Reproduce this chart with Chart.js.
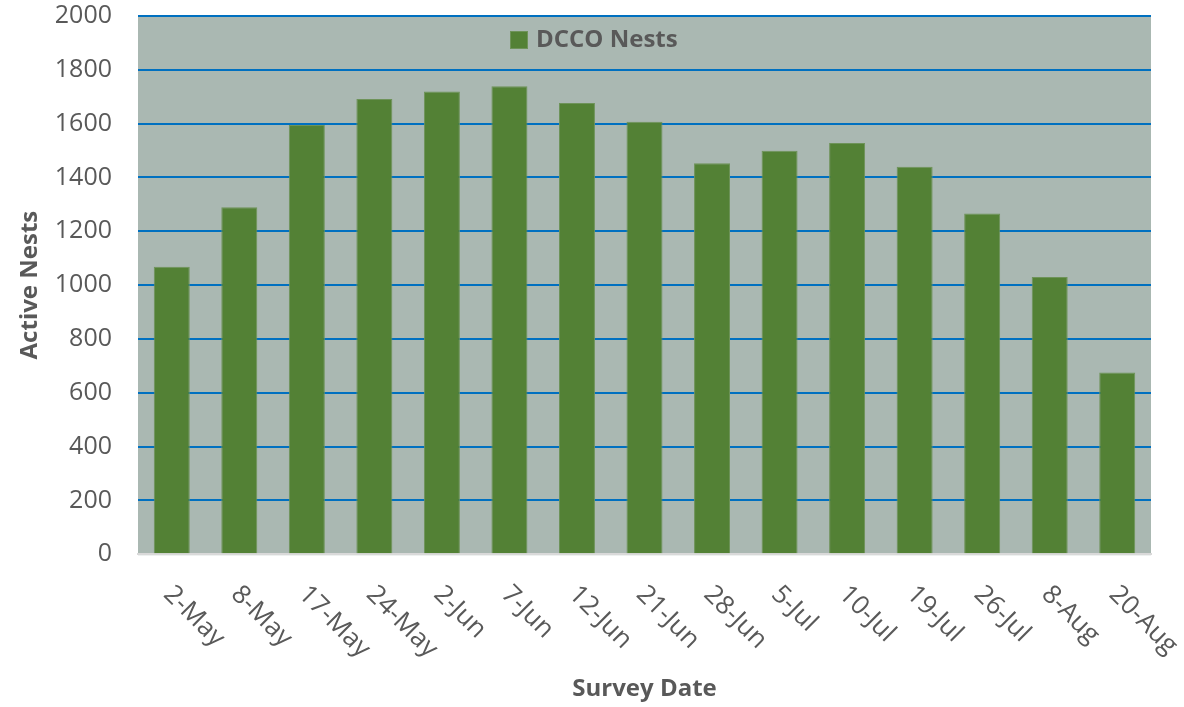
<!DOCTYPE html>
<html>
<head>
<meta charset="utf-8">
<script src="https://cdn.jsdelivr.net/npm/chart.js@4.4.1/dist/chart.umd.min.js"></script>
<style>
  html, body { margin: 0; padding: 0; background: #fff; }
  #wrap { width: 1184px; height: 707px; }
</style>
</head>
<body>
<div id="wrap"><canvas id="nestChart"></canvas></div>
<script>
// Survey dates and active nest counts
const surveyDates = ['2-May', '8-May', '17-May', '24-May', '2-Jun', '7-Jun', '12-Jun', '21-Jun',
    '28-Jun', '5-Jul', '10-Jul', '19-Jul', '26-Jul', '8-Aug', '20-Aug'];
const dccoNests = [1068, 1289, 1595, 1692, 1719, 1739, 1677, 1607, 1453, 1499, 1528, 1440, 1266, 1030, 675];
const yTicks = [0, 200, 400, 600, 800, 1000, 1200, 1400, 1600, 1800, 2000];

const barGreen = '#538135';
const labelGrey = '#595959';
const baseFont = 'Open Sans';

// Grey-green fill behind the plot
const plotBackground = {
    id: 'plotBackground',
    beforeDraw(chart) {
        const { ctx, chartArea } = chart;
        ctx.save();
        ctx.fillStyle = '#AAB8B2';
        ctx.fillRect(chartArea.left, chartArea.top, chartArea.right - chartArea.left, chartArea.bottom - chartArea.top + 1);
        ctx.restore();
    }
};

// Category labels slanting down to the right, starting under each bar
const slantedLabels = {
    id: 'slantedLabels',
    afterDraw(chart) {
        const { ctx, chartArea } = chart;
        const xScale = chart.scales.x;
        ctx.save();
        ctx.font = '26px "' + baseFont + '"';
        ctx.fillStyle = labelGrey;
        ctx.textAlign = 'left';
        ctx.textBaseline = 'middle';
        surveyDates.forEach((label, i) => {
            const px = xScale.getPixelForTick(i);
            ctx.save();
            ctx.translate(px - 4, chartArea.bottom + 36);
            ctx.rotate(Math.PI / 4);
            ctx.fillText(label, 0, 0);
            ctx.restore();
        });
        ctx.restore();
    }
};

// Legend sitting inside the top of the plot
const innerLegend = {
    id: 'innerLegend',
    afterDraw(chart) {
        const { ctx, chartArea } = chart;
        const x = chartArea.left + 372;
        const y = chartArea.top + 24;
        ctx.save();
        ctx.fillStyle = barGreen;
        ctx.fillRect(x, y - 9, 18, 18);
        ctx.strokeStyle = '#6E9359';
        ctx.lineWidth = 1;
        ctx.strokeRect(x + 0.5, y - 8.5, 17, 17);
        ctx.font = 'bold 24px "' + baseFont + '"';
        ctx.fillStyle = labelGrey;
        ctx.textAlign = 'left';
        ctx.textBaseline = 'middle';
        ctx.fillText(chart.data.datasets[0].label, x + 26, y);
        ctx.restore();
    }
};

const ctx = document.getElementById('nestChart').getContext('2d');

new Chart(ctx, {
    type: 'bar',
    data: {
        labels: surveyDates,
        datasets: [{
            label: 'DCCO Nests',
            data: dccoNests,
            backgroundColor: barGreen,
            borderColor: '#6E9359',
            borderWidth: 1,
            barPercentage: 0.533,
            categoryPercentage: 1
        }]
    },
    options: {
        responsive: true,
        maintainAspectRatio: false,
        animation: false,
        layout: {
            padding: { top: 16, right: 33, bottom: 0, left: 0 }
        },
        plugins: {
            legend: { display: false },
            tooltip: { enabled: false }
        },
        scales: {
            x: {
                grid: { display: false, drawTicks: false },
                border: { display: true, color: '#D9D9D9', width: 2 },
                ticks: { display: false },
                title: {
                    display: true,
                    text: 'Survey Date',
                    color: labelGrey,
                    font: { family: baseFont, size: 24, weight: 'bold' },
                    padding: { top: 121, bottom: 3 }
                },
                afterFit: (scale) => {
                    scale.paddingLeft = 0;
                    scale.paddingRight = 0;
                }
            },
            y: {
                min: 0,
                max: 2000,
                afterBuildTicks: (scale) => {
                    scale.ticks = yTicks.map(v => ({ value: v }));
                },
                afterFit: (scale) => {
                    scale.width = 138;
                    scale.paddingTop = 0;
                    scale.paddingBottom = 0;
                },
                grid: {
                    drawTicks: false,
                    lineWidth: 2,
                    color: (c) => c.tick && c.tick.value === 0 ? 'rgba(0,0,0,0)' : '#0070C0'
                },
                border: { display: false },
                ticks: {
                    color: labelGrey,
                    padding: 26,
                    font: { family: baseFont, size: 25 },
                    callback: (v) => String(v)
                },
                title: {
                    display: true,
                    text: 'Active Nests',
                    color: labelGrey,
                    font: { family: baseFont, size: 24, weight: 'bold' },
                    padding: { top: 16, bottom: 0 }
                }
            }
        }
    },
    plugins: [plotBackground, slantedLabels, innerLegend]
});
</script>
</body>
</html>
